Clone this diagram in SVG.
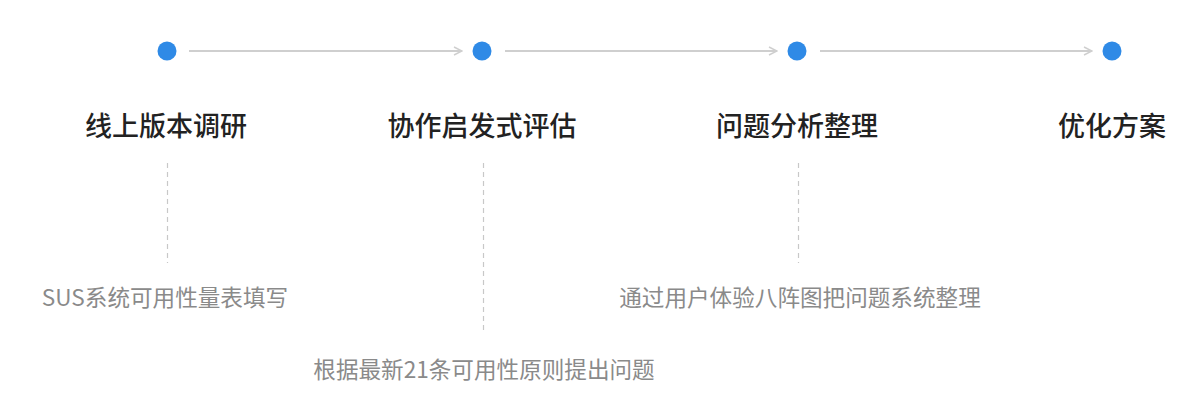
<svg xmlns="http://www.w3.org/2000/svg" width="1200" height="412" viewBox="0 0 1200 412">
<style>
.dot{fill:#2f8ae6}
.title{font-family:"Noto Sans CJK SC","Noto Sans",sans-serif;font-size:27px;font-weight:500;fill:#222;text-anchor:middle}
.sub{font-family:"Noto Sans CJK SC","Noto Sans",sans-serif;font-size:22.6px;fill:#8a8a8a;text-anchor:middle}
.conn{stroke:#cfcfcf;stroke-width:2;fill:none}
.dash{stroke:#c8c8c8;stroke-width:1.2;stroke-dasharray:5 4;fill:none}
</style>
<defs>
<marker id="chev" viewBox="0 0 10 10" refX="9" refY="5" markerWidth="5" markerHeight="5" orient="auto" markerUnits="strokeWidth">
<path d="M1,1 L9,5 L1,9" fill="none" stroke="#cfcfcf" stroke-width="1.5"/>
</marker>
</defs>
<rect width="1200" height="412" fill="#ffffff"/>
<g id="connectors">
<line class="conn" x1="189" y1="51" x2="462" y2="51" marker-end="url(#chev)"/>
<line class="conn" x1="505" y1="51" x2="777" y2="51" marker-end="url(#chev)"/>
<line class="conn" x1="820" y1="51" x2="1092" y2="51" marker-end="url(#chev)"/>
</g>
<g id="step1">
<circle class="dot" cx="167" cy="51" r="9.5"/>
<text class="title" x="166" y="136">线上版本调研</text>
<line class="dash" x1="167.5" y1="163" x2="167.5" y2="263"/>
<text class="sub" x="165" y="306">SUS系统可用性量表填写</text>
</g>
<g id="step2">
<circle class="dot" cx="482" cy="51" r="9.5"/>
<text class="title" x="482" y="136">协作启发式评估</text>
<line class="dash" x1="483.5" y1="163" x2="483.5" y2="333"/>
<text class="sub" x="484" y="378">根据最新21条可用性原则提出问题</text>
</g>
<g id="step3">
<circle class="dot" cx="797" cy="51" r="9.5"/>
<text class="title" x="797" y="136">问题分析整理</text>
<line class="dash" x1="798.5" y1="163" x2="798.5" y2="263"/>
<text class="sub" x="800" y="306">通过用户体验八阵图把问题系统整理</text>
</g>
<g id="step4">
<circle class="dot" cx="1112" cy="51" r="9.5"/>
<text class="title" x="1112" y="136">优化方案</text>
</g>
</svg>
